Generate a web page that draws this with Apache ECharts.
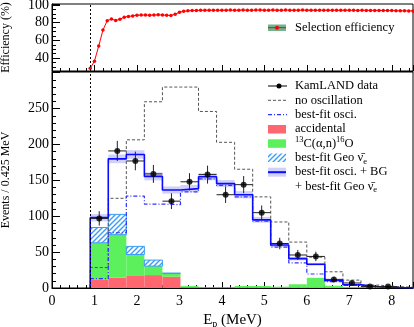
<!DOCTYPE html>
<html>
<head>
<meta charset="utf-8">
<script src="https://cdn.jsdelivr.net/npm/echarts@6/dist/echarts.min.js"></script>
<style>
html, body { margin: 0; padding: 0; background: #fff; }
#main { width: 414px; height: 327px; }
</style>
</head>
<body>
<div id="main"></div>
<script>
// bins of 0.425 MeV starting at the 0.9 MeV threshold
var binEdges = [0.9, 1.325, 1.75, 2.175, 2.6, 3.025, 3.45, 3.875, 4.3, 4.725, 5.15, 5.575, 6.0, 6.425, 6.85, 7.275, 7.7, 8.125, 8.55];
var kamlandData = [97, 191, 177, 159, 121, 148, 158, 130, 144, 105, 62, 46, 44, 12, 7, 2, 2, 0];
var kamlandErr = [10, 14, 13, 12.5, 11, 12, 12.5, 11.5, 12, 10, 8, 7, 6.6, 3.5, 2.6, 1.4, 1.4, 0];
var noOscillation = [28.5, 125, 206.5, 259.5, 280, 280, 246, 203, 165.5, 127, 92, 64, 43, 22.6, 11, 4, 2, 1];
var bestFitOsci = [13, 77, 128, 117, 116, 134, 152, 143, 127, 93, 57, 35, 19.5, 8.8, 3.5, 1.5, 0.8, 0.4];
var bestFitTotal = [98, 180, 186, 155.5, 136.5, 138.5, 155, 145.5, 130, 95, 60, 41, 33, 10.5, 4.5, 1.8, 0.8, 0.4];
var bestFitTotalErr = [5, 6, 6, 5.5, 5, 5, 5, 5, 5, 4, 3, 2.5, 2, 1, 1, 0.5, 0.3, 0.2];
var accidental = [12, 14.3, 16.7, 18, 15.7, 1.5, 0.8, 0.5, 0.4, 0.3, 0.3, 0.2, 0.2, 0.1, 0.1, 0, 0, 0];
var c13an = [51, 60, 30, 12.5, 4.7, 1.5, 0.5, 0.5, 2.5, 2.5, 1.5, 5, 14, 3, 1, 0.5, 0.3, 0.2];
var geoNu = [21.3, 28.3, 11.3, 8.4, 0.3, 0, 0, 0, 0, 0, 0, 0, 0, 0, 0, 0, 0, 0];

var effEnergy = [0.9, 1.0, 1.1, 1.2, 1.3, 1.4, 1.5, 1.6, 1.7, 1.8, 1.9, 2.0, 2.1, 2.2, 2.3, 2.4, 2.5, 2.6, 2.7, 2.8, 2.9,
    3.0, 3.1, 3.2, 3.3, 3.4, 3.5, 3.6, 3.7, 3.8, 3.9, 4.0, 4.1, 4.2, 4.3, 4.4, 4.5, 4.6, 4.7, 4.8, 4.9,
    5.0, 5.1, 5.2, 5.3, 5.4, 5.5, 5.6, 5.7, 5.8, 5.9, 6.0, 6.1, 6.2, 6.3, 6.4, 6.5, 6.6, 6.7, 6.8, 6.9,
    7.0, 7.1, 7.2, 7.3, 7.4, 7.5, 7.6, 7.7, 7.8, 7.9, 8.0, 8.1, 8.2, 8.3, 8.4, 8.5];
var effValue = [28.6, 36.6, 53.6, 71.7, 82.2, 84.1, 82.4, 83.8, 86.2, 87.0, 87.6, 88.4, 88.5, 88.6, 88.4, 88.6, 88.8, 88.6, 88.3, 88.0, 89.4,
    91.6, 92.8, 93.3, 93.6, 93.8, 93.9, 93.9, 94.0, 94.0, 93.9, 94.0, 94.0, 94.1, 94.0, 94.0, 94.1, 94.0, 94.0, 94.1, 94.1,
    94.0, 94.0, 94.1, 94.0, 94.0, 94.1, 94.0, 94.0, 94.0, 94.1, 94.0, 94.0, 93.9, 94.0, 94.0, 93.9, 94.0, 93.9, 93.9, 94.0,
    93.9, 93.9, 93.8, 93.9, 93.8, 93.8, 93.8, 93.7, 93.7, 93.6, 93.6, 93.4, 93.3, 93.3, 93.2, 93.2];

var threshold = 0.9;
var FONT = 'Liberation Serif';
var HATCH = '#3a9cf5';

// diagonal hatch for the geo neutrino histogram
var hatch = document.createElement('canvas');
hatch.width = 5;
hatch.height = 5;
var hc = hatch.getContext('2d');
hc.fillStyle = '#fff';
hc.fillRect(0, 0, 5, 5);
hc.strokeStyle = HATCH;
hc.lineWidth = 1.4;
hc.beginPath();
hc.moveTo(-1, 6); hc.lineTo(6, -1);
hc.moveTo(-1, 1); hc.lineTo(1, -1);
hc.moveTo(4, 6); hc.lineTo(6, 4);
hc.stroke();
var hatchFill = { image: hatch, repeat: 'repeat' };

function stepData(vals) {
    var d = [[binEdges[0], 0]];
    for (var i = 0; i < vals.length; i++) {
        d.push([binEdges[i], vals[i]]);
    }
    d.push([binEdges[vals.length], vals[vals.length - 1]]);
    return d;
}

function boxData(low, high) {
    var d = [];
    for (var i = 0; i < high.length; i++) {
        if (high[i] > low[i]) d.push([binEdges[i], binEdges[i + 1], low[i], high[i]]);
    }
    return d;
}

function addUp(a, b) {
    return a.map(function (v, i) { return v + b[i]; });
}

function boxRenderer(style) {
    return function (params, api) {
        var p0 = api.coord([api.value(0), api.value(2)]);
        var p1 = api.coord([api.value(1), api.value(3)]);
        var cs = params.coordSys;
        var shape = echarts.graphic.clipRectByRect(
            { x: p0[0], y: p1[1], width: p1[0] - p0[0], height: p0[1] - p1[1] },
            { x: cs.x, y: cs.y, width: cs.width, height: cs.height });
        if (!shape) return;
        return { type: 'rect', shape: shape, style: style };
    };
}

function renderErr(params, api) {
    var x = api.value(0), y = api.value(1), e = api.value(2), hw = api.value(3);
    var l = api.coord([x - hw, y]), r = api.coord([x + hw, y]);
    var t = api.coord([x, y + e]), b = api.coord([x, y - e]);
    var st = { stroke: '#222', lineWidth: 1 };
    return {
        type: 'group', children: [
            { type: 'line', shape: { x1: l[0], y1: l[1], x2: r[0], y2: r[1] }, style: st },
            { type: 'line', shape: { x1: t[0], y1: t[1], x2: b[0], y2: b[1] }, style: st }
        ]
    };
}

var accTop = accidental.slice();
var c13Top = addUp(accTop, c13an);
var geoTop = addUp(c13Top, geoNu);
var zeros = accidental.map(function () { return 0; });

var points = [], errBars = [];
for (var i = 0; i < kamlandData.length; i++) {
    if (kamlandData[i] <= 0) continue;
    var xc = (binEdges[i] + binEdges[i + 1]) / 2;
    var hw = (binEdges[i + 1] - binEdges[i]) / 2;
    points.push([xc, kamlandData[i]]);
    errBars.push([xc, kamlandData[i], kamlandErr[i], hw]);
}
var band = [];
for (var j = 0; j < bestFitTotal.length; j++) {
    band.push([binEdges[j], binEdges[j + 1], bestFitTotal[j] - bestFitTotalErr[j], bestFitTotal[j] + bestFitTotalErr[j]]);
}

var thresholdLine = {
    silent: true, symbol: 'none', label: { show: false },
    lineStyle: { color: '#000', type: [2, 2], width: 1 },
    data: [{ xAxis: threshold }]
};

function legendText(y, text, rich) {
    var s = { x: 295, y: y, text: text, fontFamily: FONT, fontSize: 12.5, fill: '#000', verticalAlign: 'middle' };
    if (rich) s.rich = rich;
    return { type: 'text', style: s };
}
var richSup = {
    a: { fontFamily: FONT, fontSize: 12.5, lineHeight: 16 },
    sup: { fontFamily: FONT, fontSize: 8.5, verticalAlign: 'top', padding: [0, 0, 3, 0], lineHeight: 10 },
    sub: { fontFamily: FONT, fontSize: 8.5, verticalAlign: 'bottom', lineHeight: 10 }
};

var chart = echarts.init(document.getElementById('main'), null, { renderer: 'canvas' });

var axisLineStyle = { lineStyle: { color: '#000', width: 1 } };

var option = {
    animation: false,
    backgroundColor: '#fff',
    grid: [
        { left: 52, top: 4, width: 361, height: 67, show: true, borderColor: '#000', borderWidth: 1, containLabel: false, outerBoundsMode: 'none' },
        { left: 52, top: 72, width: 361, height: 216, show: true, borderColor: '#000', borderWidth: 1, containLabel: false, outerBoundsMode: 'none' }
    ],
    xAxis: [
        {
            gridIndex: 0, type: 'value', min: 0, max: 8.5, interval: 1,
            axisLine: axisLineStyle, splitLine: { show: false },
            axisTick: { inside: true, length: 6, lineStyle: { color: '#000' } },
            minorTick: { show: true, splitNumber: 5, length: 3, lineStyle: { color: '#000' } },
            axisLabel: { show: false }
        },
        {
            gridIndex: 1, type: 'value', min: 0, max: 8.5, interval: 1,
            axisLine: axisLineStyle, splitLine: { show: false },
            axisTick: { inside: true, length: 6, lineStyle: { color: '#000' } },
            minorTick: { show: true, splitNumber: 5, length: 3, lineStyle: { color: '#000' } },
            axisLabel: {
                color: '#000', fontFamily: FONT, fontSize: 14, margin: 6,
                showMinLabel: true, hideOverlap: false,
                formatter: function (v) { return v % 1 === 0 ? String(v) : ''; }
            },
            name: '{a|E}{s|p}{a| (MeV)}',
            nameLocation: 'middle', nameGap: 19,
            nameTextStyle: {
                rich: {
                    a: { fontFamily: FONT, fontSize: 15, color: '#000', lineHeight: 18 },
                    s: { fontFamily: FONT, fontSize: 10, color: '#000', verticalAlign: 'bottom', lineHeight: 12 }
                }
            }
        }
    ],
    yAxis: [
        {
            gridIndex: 0, type: 'value', min: 25.5, max: 101, splitNumber: 4,
            axisLine: axisLineStyle, splitLine: { show: false },
            axisTick: { inside: true, length: 8, lineStyle: { color: '#000' } },
            minorTick: { show: true, splitNumber: 4, length: 4, lineStyle: { color: '#000' } },
            axisLabel: {
                color: '#000', fontFamily: FONT, fontSize: 14, margin: 3,
                formatter: function (v) { return v % 20 === 0 ? String(v) : ''; }
            },
            name: 'Efficiency (%)', nameLocation: 'middle', nameGap: 40,
            nameTextStyle: { fontFamily: FONT, fontSize: 12, color: '#000' }
        },
        {
            gridIndex: 1, type: 'value', min: 0, max: 301, interval: 50,
            axisLine: axisLineStyle, splitLine: { show: false },
            axisTick: { inside: true, length: 8, lineStyle: { color: '#000' } },
            minorTick: { show: true, splitNumber: 5, length: 4, lineStyle: { color: '#000' } },
            axisLabel: {
                color: '#000', fontFamily: FONT, fontSize: 14, margin: 3,
                showMinLabel: true, hideOverlap: false,
                formatter: function (v) { return (v % 50 === 0 && v < 300) ? String(v) : ''; }
            },
            name: 'Events / 0.425 MeV', nameLocation: 'middle', nameGap: 40,
            nameTextStyle: { fontFamily: FONT, fontSize: 12, color: '#000' }
        }
    ],
    series: [
        {
            name: 'Selection efficiency', type: 'line', xAxisIndex: 0, yAxisIndex: 0,
            data: effEnergy.map(function (x, i) { return [x, effValue[i]]; }),
            symbol: 'circle', symbolSize: 3.5, showSymbol: true,
            itemStyle: { color: '#ff0000' },
            lineStyle: { color: '#ff0000', width: 1 },
            markLine: thresholdLine, z: 3
        },
        {
            name: 'accidental', type: 'custom', xAxisIndex: 1, yAxisIndex: 1,
            data: boxData(zeros, accTop),
            renderItem: boxRenderer({ fill: '#ff6670' }),
            markLine: thresholdLine
        },
        {
            name: 'C13', type: 'custom', xAxisIndex: 1, yAxisIndex: 1,
            data: boxData(accTop, c13Top),
            renderItem: boxRenderer({ fill: '#5cf05c' })
        },
        {
            name: 'geo', type: 'custom', xAxisIndex: 1, yAxisIndex: 1,
            data: boxData(c13Top, geoTop),
            renderItem: boxRenderer({ fill: hatchFill, stroke: HATCH, lineWidth: 1 })
        },
        {
            name: 'band', type: 'custom', xAxisIndex: 1, yAxisIndex: 1,
            data: band,
            renderItem: boxRenderer({ fill: 'rgba(170,170,250,0.55)' })
        },
        {
            name: 'no oscillation', type: 'line', xAxisIndex: 1, yAxisIndex: 1, step: 'end',
            data: stepData(noOscillation), symbol: 'none',
            lineStyle: { color: '#555', width: 1, type: [3, 2] }
        },
        {
            name: 'best-fit osci.', type: 'line', xAxisIndex: 1, yAxisIndex: 1, step: 'end',
            data: stepData(bestFitOsci), symbol: 'none',
            lineStyle: { color: '#3030ff', width: 1.2, type: [4, 2, 1, 2] }
        },
        {
            name: 'best-fit total', type: 'line', xAxisIndex: 1, yAxisIndex: 1, step: 'end',
            data: stepData(bestFitTotal), symbol: 'none',
            lineStyle: { color: '#0a0aff', width: 1.6 }
        },
        {
            name: 'err', type: 'custom', xAxisIndex: 1, yAxisIndex: 1,
            data: errBars, renderItem: renderErr, z: 4
        },
        {
            name: 'KamLAND data', type: 'scatter', xAxisIndex: 1, yAxisIndex: 1,
            data: points, symbol: 'circle', symbolSize: 6,
            itemStyle: { color: '#000' }, z: 5
        }
    ],
    graphic: [
        // top legend
        { type: 'rect', shape: { x: 268, y: 24.5, width: 18, height: 6.5 }, style: { fill: '#6db58e' } },
        { type: 'line', shape: { x1: 268, y1: 27.7, x2: 286, y2: 27.7 }, style: { stroke: '#ff0000', lineWidth: 1 } },
        { type: 'circle', shape: { cx: 277, cy: 27.7, r: 2 }, style: { fill: '#ff0000' } },
        { type: 'text', style: { x: 295, y: 28, text: 'Selection efficiency', fontFamily: FONT, fontSize: 12.5, fill: '#000', verticalAlign: 'middle' } },
        // bottom legend
        { type: 'line', shape: { x1: 268, y1: 86, x2: 287, y2: 86 }, style: { stroke: '#000', lineWidth: 1 } },
        { type: 'circle', shape: { cx: 279, cy: 86, r: 2.5 }, style: { fill: '#000' } },
        legendText(86, 'KamLAND data'),
        { type: 'line', shape: { x1: 268, y1: 100.3, x2: 287, y2: 100.3 }, style: { stroke: '#555', lineWidth: 1, lineDash: [3, 2] } },
        legendText(100.3, 'no oscillation'),
        { type: 'line', shape: { x1: 268, y1: 114.6, x2: 287, y2: 114.6 }, style: { stroke: '#3030ff', lineWidth: 1.2, lineDash: [4, 2, 1, 2] } },
        legendText(114.6, 'best-fit osci.'),
        { type: 'rect', shape: { x: 268, y: 125, width: 18, height: 8.5 }, style: { fill: '#ff6670' } },
        legendText(129, 'accidental'),
        { type: 'rect', shape: { x: 268, y: 139.3, width: 18, height: 8.5 }, style: { fill: '#5cf05c' } },
        legendText(143.5, '{sup|13}{a|C(α,n)}{sup|16}{a|O}', richSup),
        { type: 'rect', shape: { x: 268, y: 153.5, width: 18, height: 8.5 }, style: { fill: hatchFill } },
        legendText(157.8, '{a|best-fit Geo ν\u0304}{sub|e}', richSup),
        { type: 'rect', shape: { x: 268, y: 167.7, width: 18, height: 9 }, style: { fill: 'rgba(170,170,250,0.55)' } },
        { type: 'line', shape: { x1: 268, y1: 172.2, x2: 286, y2: 172.2 }, style: { stroke: '#0a0aff', lineWidth: 2 } },
        legendText(172, 'best-fit osci. + BG'),
        legendText(186.5, '{a|+ best-fit Geo ν\u0304}{sub|e}', richSup)
    ]
};

chart.setOption(option);
</script>
</body>
</html>
